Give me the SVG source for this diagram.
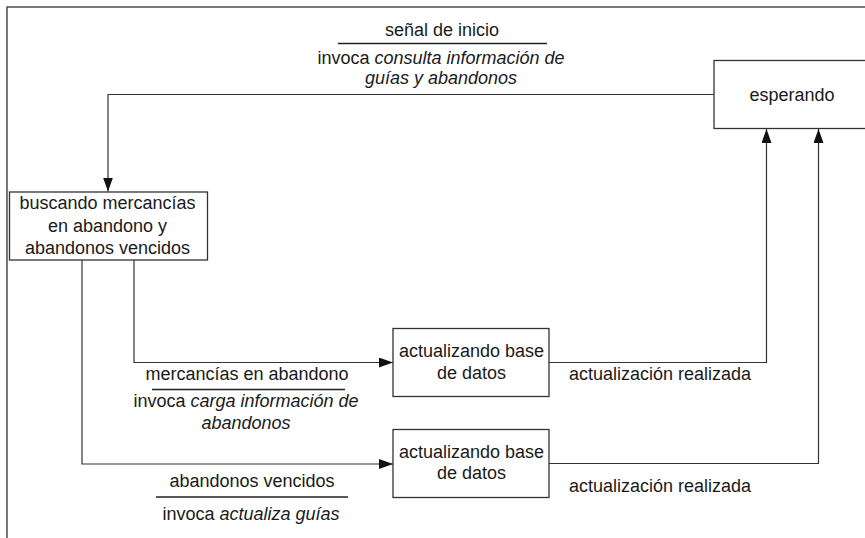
<svg xmlns="http://www.w3.org/2000/svg" width="865" height="538" viewBox="0 0 865 538">
<style>
text{font-family:"Liberation Sans",Arial,sans-serif;font-size:18px;fill:#1a1a1a}
.c{text-anchor:middle}
.i{font-style:italic}
.box{fill:#fff;stroke:#333;stroke-width:1.3}
.ln{fill:none;stroke:#333;stroke-width:1.2}
.bar{stroke:#222;stroke-width:1.6}
</style>
<defs>
<marker id="ah" viewBox="0 0 14 10" refX="14" refY="5" markerWidth="14" markerHeight="10" markerUnits="userSpaceOnUse" orient="auto">
<path d="M0,0 L14,5 L0,10 Z" fill="#111"/>
</marker>
</defs>
<rect x="7" y="7" width="880" height="560" fill="none" stroke="#333" stroke-width="1.3"/>
<g id="connectors">
<polyline class="ln" points="714,94.5 108,94.5 108,191.5" marker-end="url(#ah)"/>
<polyline class="ln" points="134,260 134,362.5 393,362.5" marker-end="url(#ah)"/>
<polyline class="ln" points="82,260 82,464 393,464" marker-end="url(#ah)"/>
<polyline class="ln" points="549,362.5 766.5,362.5 766.5,129" marker-end="url(#ah)"/>
<polyline class="ln" points="549,463.5 818.5,463.5 818.5,129" marker-end="url(#ah)"/>
</g>
<g id="label-senal">
<text class="c" x="442" y="36">señal de inicio</text>
<line class="bar" x1="338" y1="43.5" x2="547" y2="43.5"/>
<text class="c" x="441" y="64">invoca <tspan class="i">consulta información de</tspan></text>
<text class="c i" x="441" y="84">guías y abandonos</text>
</g>
<g id="label-mercancias">
<text class="c" x="247" y="380">mercancías en abandono</text>
<line class="bar" x1="152" y1="389.5" x2="345" y2="389.5"/>
<text class="c" x="246" y="407">invoca <tspan class="i">carga información de</tspan></text>
<text class="c i" x="246" y="428.5">abandonos</text>
</g>
<g id="label-vencidos">
<text class="c" x="252" y="487">abandonos vencidos</text>
<line class="bar" x1="156" y1="497" x2="348" y2="497"/>
<text class="c" x="251" y="519.5">invoca <tspan class="i">actualiza guías</tspan></text>
</g>
<g id="label-realizada1">
<text x="569" y="380">actualización realizada</text>
</g>
<g id="label-realizada2">
<text x="569" y="492">actualización realizada</text>
</g>
<g id="esperando">
<rect class="box" x="714" y="60.5" width="160" height="68"/>
<text class="c" x="792" y="101">esperando</text>
</g>
<g id="buscando">
<rect class="box" x="9.5" y="192" width="198" height="68"/>
<text class="c" x="107.5" y="209">buscando mercancías</text>
<text class="c" x="107.5" y="231.5">en abandono y</text>
<text class="c" x="107.5" y="253.5">abandonos vencidos</text>
</g>
<g id="actualizando1">
<rect class="box" x="393" y="328.5" width="156" height="68"/>
<text class="c" x="471.5" y="357">actualizando base</text>
<text class="c" x="471.5" y="379">de datos</text>
</g>
<g id="actualizando2">
<rect class="box" x="393" y="429.5" width="156" height="68"/>
<text class="c" x="471.5" y="457.5">actualizando base</text>
<text class="c" x="471.5" y="479">de datos</text>
</g>
</svg>
